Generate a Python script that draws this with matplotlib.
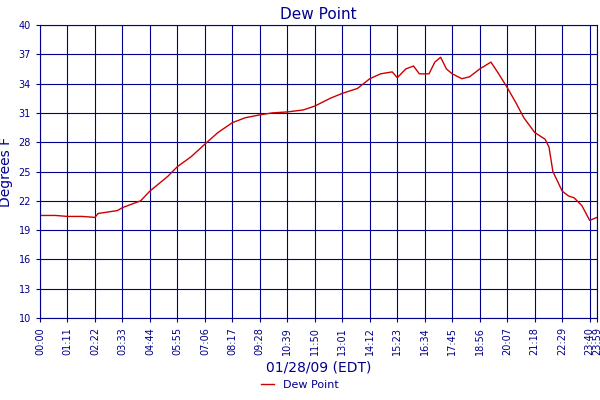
import numpy as np
import matplotlib
matplotlib.use('Agg')
import matplotlib.pyplot as plt

# time as HH:MM, dew point in degrees F
times = ['00:00', '00:40', '01:11', '01:50', '02:22', '02:30', '03:20', '03:33', '04:20', '04:44',
         '05:30', '05:55', '06:30', '07:06', '07:40', '08:17', '08:50', '09:28', '10:00', '10:39',
         '11:20', '11:50', '12:30', '13:01', '13:40', '14:12', '14:40', '15:10', '15:23', '15:45',
         '16:05', '16:20', '16:45', '17:00', '17:15', '17:30', '17:45', '18:10', '18:30', '18:56',
         '19:25', '19:45', '20:07', '20:30', '20:50', '21:18', '21:45', '21:55', '22:05', '22:29',
         '22:45', '23:00', '23:20', '23:40', '23:59']
dew = [20.5, 20.5, 20.4, 20.4, 20.3, 20.7, 21.0, 21.3, 22.0, 23.0,
       24.5, 25.5, 26.5, 27.8, 29.0, 30.0, 30.5, 30.8, 31.0, 31.1,
       31.3, 31.7, 32.5, 33.0, 33.5, 34.5, 35.0, 35.2, 34.6, 35.5,
       35.8, 35.0, 35.0, 36.2, 36.7, 35.5, 35.0, 34.5, 34.7, 35.5,
       36.2, 35.0, 33.6, 32.0, 30.5, 29.0, 28.3, 27.5, 25.0, 23.0,
       22.5, 22.3, 21.5, 20.0, 20.3]
tick_labels = ['00:00', '01:11', '02:22', '03:33', '04:44', '05:55', '07:06', '08:17', '09:28',
               '10:39', '11:50', '13:01', '14:12', '15:23', '16:34', '17:45', '18:56', '20:07',
               '21:18', '22:29', '23:40', '23:59']
y_ticks = list(range(10, 41, 3))

def minutes(s):
    h, m = s.split(':')
    return int(h) * 60 + int(m)

t = [minutes(s) for s in times]
navy = '#00008B'

fig = plt.figure(figsize=(6, 4), dpi=100)
ax = fig.add_axes([40/600, 82/400, 557/600, 293/400])
ax.plot(t, dew, color='#CC0000', lw=1.0, label='Dew Point')
ax.set_xlim(0, 1439)
ax.set_ylim(10, 40)
ax.set_xticks([minutes(s) for s in tick_labels])
ax.set_xticklabels(tick_labels, rotation=90, fontsize=7, color=navy)
ax.set_yticks(y_ticks)
ax.set_yticklabels([str(v) for v in y_ticks], fontsize=7, color=navy)
ax.grid(True, color=navy, lw=0.8)
for s in ax.spines.values():
    s.set_color(navy)
ax.tick_params(colors=navy, length=3)
ax.set_title('Dew Point', color=navy, fontsize=11, pad=4)
ax.set_ylabel('Degrees F', color=navy, fontsize=10, labelpad=4)
ax.set_xlabel('01/28/09 (EDT)', color=navy, fontsize=10, labelpad=4)
fig.legend(loc='lower center', bbox_to_anchor=(0.5, 0.0), frameon=False, fontsize=8,
           handlelength=1.2, labelcolor=navy)
fig.savefig('out.png')
